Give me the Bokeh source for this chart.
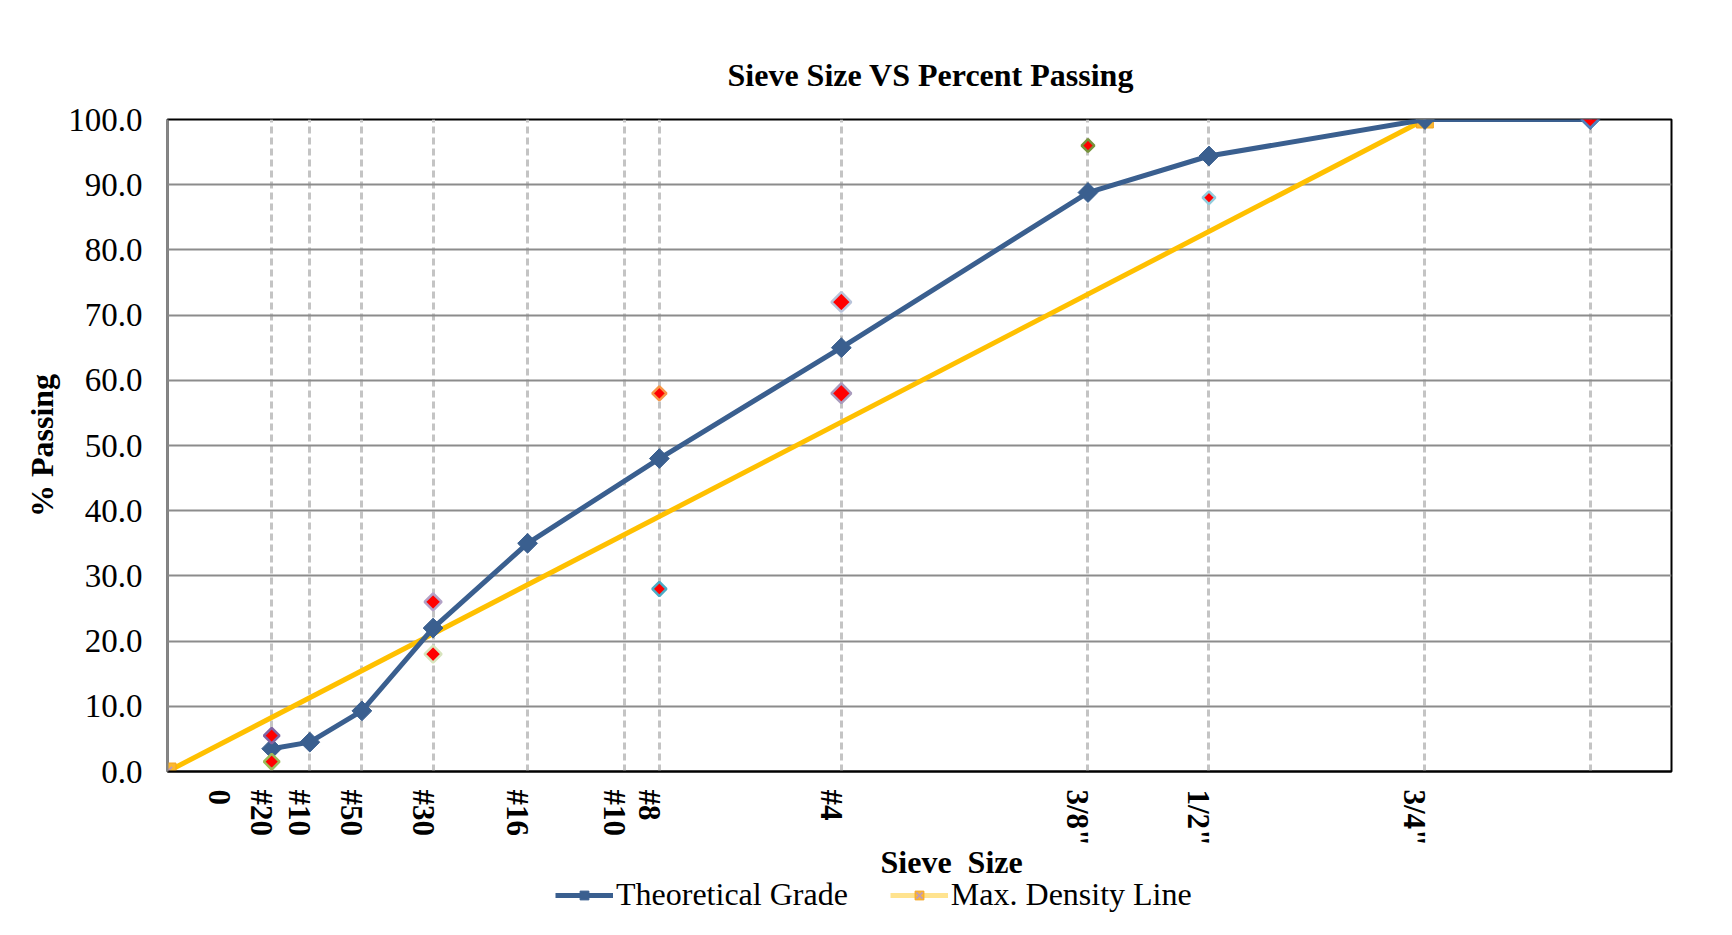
import numpy as np
from bokeh.plotting import figure
from bokeh.layouts import column
from bokeh.models import FixedTicker, NumeralTickFormatter, Legend, LegendItem, Range1d, Label
from bokeh.embed import file_html
from bokeh.resources import INLINE

# ---------------- data ----------------
POWER = 0.45  # 0.45 power gradation chart
sieve_names = ['#200', '#100', '#50', '#30', '#16', '#10', '#8', '#4', '3/8"', '1/2"', '3/4"', '1"']
sieve_mm = [0.075, 0.15, 0.3, 0.6, 1.18, 2.0, 2.36, 4.75, 9.5, 12.5, 19.0, 25.0]

# x tick labels as printed under the axis
axis_tick_labels = ["0", "#20", "#10", "#50", "#30", "#16", "#10", "#8", "#4", '3/8"', '1/2"', '3/4"']

grade_sieve_mm = [0.075, 0.15, 0.3, 0.6, 1.18, 2.36, 4.75, 9.5, 12.5, 19.0, 25.0]
grade_pass = [3.5, 4.5, 9.3, 22.0, 35.0, 48.0, 65.0, 88.8, 94.4, 100.0, 100.0]

maxdens_sieve_mm = [0.0, 19.0]
maxdens_pass = [0.0, 100.0]

spec_sieve_mm = [0.075, 0.075, 0.6, 0.6, 2.36, 2.36, 4.75, 4.75, 9.5, 12.5, 25.0]
spec_pass = [5.5, 1.5, 26.0, 18.0, 58.0, 28.0, 72.0, 58.0, 96.0, 88.0, 100.0]

y_ticks = [0, 10, 20, 30, 40, 50, 60, 70, 80, 90, 100]

# ---------------- styles ----------------
spec_outline = ["#8064A2", "#9BBB59", "#B3A2C7", "#D7E4BD", "#F79646", "#4BACC6",
                "#B9C4DA", "#A99BBD", "#77933C", "#93CDDD", "#4F81BD"]
spec_size = [11, 11, 12, 12, 10, 10, 14, 14, 9, 9, 12]

BLUE = "#3A5F8F"
YELLOW = "#FFC000"
FONT = "Liberation Serif"
FIG_W = 1716


def xp(mm):
    return np.asarray(mm, dtype=float) ** POWER


sieve_x = xp(sieve_mm)
label_ticks = [round(0.155, 4)] + [round(v - 0.03, 4) for v in sieve_x[:-1]]

p = figure(frame_width=1504, frame_height=652,
           min_border_left=167, min_border_right=45, min_border_top=119, min_border_bottom=0,
           x_range=Range1d(0, 4.5), y_range=Range1d(0, 100),
           output_backend="svg", toolbar_location=None,
           background_fill_color="white", border_fill_color="white")

p.outline_line_color = "black"
p.outline_line_width = 2

# title
p.title.text = "Sieve Size VS Percent Passing"
p.title.align = "left"
p.title.text_font = FONT
p.title.text_font_size = "32px"
p.title.text_font_style = "bold"
p.title.text_color = "black"
p.title.standoff = 53
p.title.offset = 560

# grids
p.xgrid.ticker = FixedTicker(ticks=list(sieve_x))
p.xgrid.grid_line_color = "#C4C4C4"
p.xgrid.grid_line_width = 3
p.xgrid.grid_line_dash = "7 4"
p.ygrid.ticker = FixedTicker(ticks=y_ticks)
p.ygrid.grid_line_color = "#8C8C8C"
p.ygrid.grid_line_width = 2

# x axis
p.xaxis.ticker = FixedTicker(ticks=label_ticks)
p.xaxis.major_label_overrides = {t: lab for t, lab in zip(label_ticks, axis_tick_labels)}
p.xaxis.major_label_orientation = -np.pi / 2
p.xaxis.major_label_text_font = FONT
p.xaxis.major_label_text_font_size = "31px"
p.xaxis.major_label_text_font_style = "bold"
p.xaxis.major_label_text_color = "black"
p.xaxis.major_label_standoff = 12
p.xaxis.major_tick_line_color = None
p.xaxis.minor_tick_line_color = None
p.xaxis.axis_line_color = "black"
p.xaxis.axis_line_width = 2

# y axis
p.yaxis.ticker = FixedTicker(ticks=y_ticks)
p.yaxis.formatter = NumeralTickFormatter(format="0.0")
p.yaxis.major_label_text_font = FONT
p.yaxis.major_label_text_font_size = "33px"
p.yaxis.major_label_text_color = "black"
p.yaxis.major_label_standoff = 19
p.yaxis.major_tick_line_color = None
p.yaxis.minor_tick_line_color = None
p.yaxis.axis_line_color = "#868686"
p.yaxis.axis_line_width = 2
p.yaxis.axis_label = "% Passing"
p.yaxis.axis_label_text_font = FONT
p.yaxis.axis_label_text_font_size = "32px"
p.yaxis.axis_label_text_font_style = "bold"
p.yaxis.axis_label_text_color = "black"
p.yaxis.axis_label_standoff = 5

# max density line
md_x = xp(maxdens_sieve_mm)
p.line(md_x, maxdens_pass, line_color=YELLOW, line_width=5)
p.scatter(md_x, maxdens_pass, marker="square", size=17, fill_color="#FBB830",
          line_color="#F5A623", line_width=1)
p.scatter(md_x, maxdens_pass, marker="x", size=13, line_color="#C39BB2", line_width=2)

# theoretical grade
g_x = xp(grade_sieve_mm)
p.line(g_x, grade_pass, line_color=BLUE, line_width=5)
p.scatter(g_x, grade_pass, marker="square", angle=np.pi / 4, size=14,
          fill_color=BLUE, line_color=BLUE, line_width=1)

# specification points
s_x = xp(spec_sieve_mm)
p.scatter(s_x, spec_pass, marker="square", angle=np.pi / 4, size=spec_size,
          fill_color="red", line_color=spec_outline, line_width=2.5)

# ---------------- strip below the chart: axis title + legend ----------------
LEG_H = 85
lf = figure(width=FIG_W, height=LEG_H, min_border=0, x_axis_type=None, y_axis_type=None,
            x_range=Range1d(100, 101), y_range=Range1d(100, 101),
            output_backend="svg", toolbar_location=None,
            background_fill_color="white", border_fill_color="white")
lf.outline_line_color = None
lf.grid.visible = False

lf.add_layout(Label(x=713, y=73, x_units="screen", y_units="screen", text="Sieve\u00a0 Size",
                    text_font=FONT, text_font_size="32px", text_font_style="bold",
                    text_color="black", text_align="left", text_baseline="middle"))

lg_line = lf.line(g_x, grade_pass, line_color=BLUE, line_width=5)
lg_mark = lf.scatter(g_x, grade_pass, marker="square", angle=np.pi / 4, size=16,
                     fill_color=BLUE, line_color=BLUE)
lm_line = lf.line(md_x, maxdens_pass, line_color="#FFE38F", line_width=5)
lm_sq = lf.scatter(md_x, maxdens_pass, marker="square", size=15, fill_color="#FBB830",
                   line_color="#F5A623", line_width=1)
lm_x = lf.scatter(md_x, maxdens_pass, marker="x", size=11, line_color="#C39BB2", line_width=2)

legend = Legend(items=[LegendItem(label="Theoretical Grade", renderers=[lg_line, lg_mark]),
                       LegendItem(label="Max. Density Line", renderers=[lm_line, lm_sq, lm_x])],
                orientation="horizontal", location=(388, 21),
                label_text_font=FONT, label_text_font_size="32px", label_text_color="black",
                label_height=30, glyph_width=58, glyph_height=22, label_standoff=3, spacing=42,
                padding=2, margin=0, border_line_color=None, background_fill_alpha=0)
lf.add_layout(legend, "center")

layout = column(p, lf, spacing=0)
open("out.html", "w").write(file_html(layout, INLINE))
